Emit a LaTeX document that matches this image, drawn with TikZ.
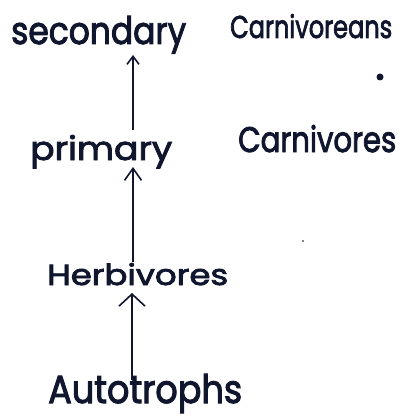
\documentclass[tikz,border=0pt]{standalone}
\usepackage{fontspec}
\setmainfont{Poppins}[FakeBold=2.6]
\usetikzlibrary{arrows.meta}
% a handwritten word stretched to a given width and height
\newcommand{\hw}[3]{\resizebox{#1}{#2}{#3}}
\definecolor{ink}{HTML}{10162E}
\tikzset{
  word/.style={anchor=base west, inner sep=0pt, text=ink},
  flow/.style={draw=ink, line width=1.4pt},
  barb/.style 2 args={-{Straight Barb[length=#1,width=#2,line width=1.6pt]}}
}
\begin{document}
\begin{tikzpicture}[x=1pt,y=-1pt]
  \useasboundingbox[fill=white] (0,0) rectangle (406,417);
  % trophic levels
  \node[word] (sec)  at (11,44)  {\hw{175pt}{28pt}{secondary}};
  \node[word] (car2) at (230,38) {\hw{162pt}{24pt}{Carnivoreans}};
  \node[word] (pri)  at (30,160) {\hw{142pt}{25pt}{primary}};
  \node[word] (car1) at (238,152){\hw{158pt}{27pt}{Carnivores}};
  \node[word] (herb) at (47,285) {\hw{181pt}{22pt}{Herbivores}};
  \node[word] (auto) at (48,403) {\hw{194pt}{29pt}{Autotrophs}};
  % energy flow upward
  \coordinate (t1) at (132,380);
  \coordinate (t2) at (133,262);
  \coordinate (t3) at (133,130);
  \draw[flow, barb={12pt}{26pt}] (t1) -- ([yshift=-8pt]herb.base -| t1);
  \draw[flow, barb={12pt}{17pt}] (t2) -- ([yshift=-7pt]pri.base -| t2);
  \draw[flow, barb={8pt}{12pt}]  (t3) -- ([yshift=-11pt]sec.base -| t3);
  % ink spots
  \fill[ink] (380,77) circle (3.5);
  \fill[ink!70] (303,241) circle (1.2);
\end{tikzpicture}
\end{document}
